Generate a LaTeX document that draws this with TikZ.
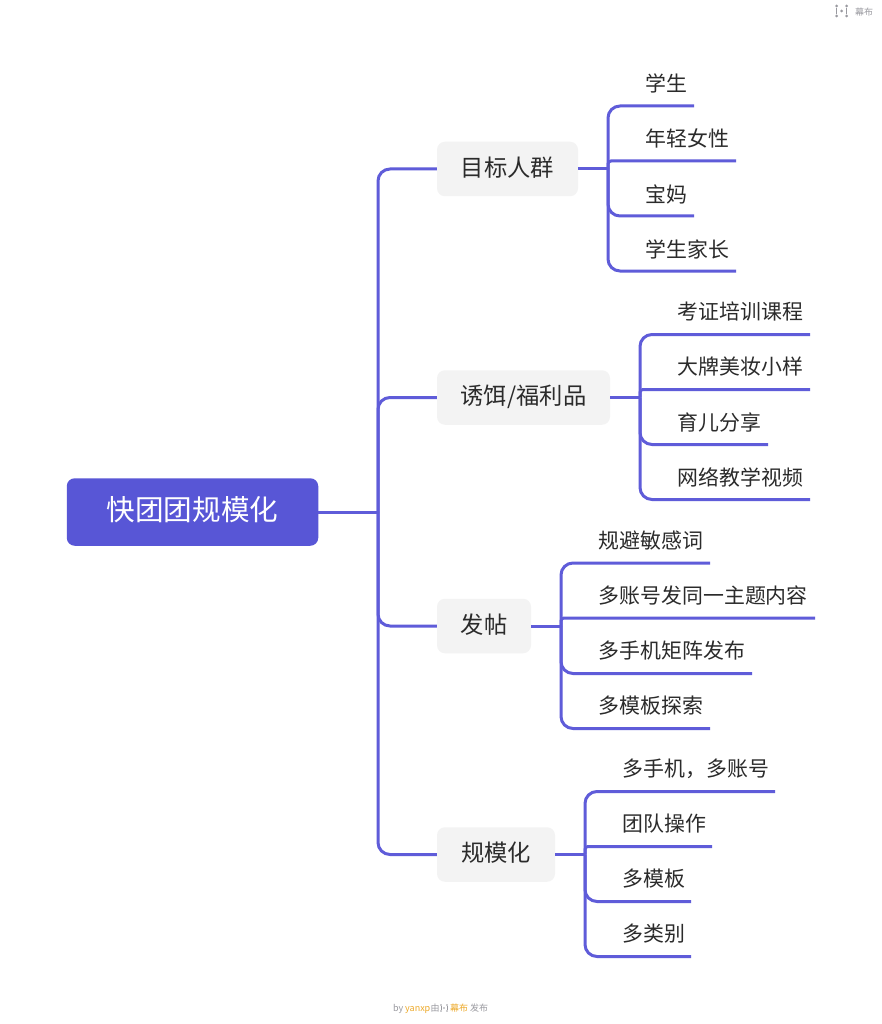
\documentclass[tikz,border=0pt]{standalone}
\usepackage{fontspec}
\setmainfont{Noto Sans CJK SC}
\definecolor{conncol}{HTML}{5F5CD9}
\definecolor{rootcol}{HTML}{5856D6}
\definecolor{boxcol}{HTML}{F3F3F3}
\definecolor{inkcol}{HTML}{2B2B2B}
\definecolor{markcol}{HTML}{9A9AA0}
\definecolor{orangecol}{HTML}{EDA929}
\tikzset{
  x=1pt,y=-1pt,
  rootbox/.style={fill=rootcol,rounded corners=8pt,inner sep=0pt,minimum height=67.5pt,minimum width=251.5pt},
  branchbox/.style={fill=boxcol,rounded corners=8pt,inner sep=0pt,minimum height=54.5pt},
  roottext/.style={text=white,inner sep=0pt,font=\fontsize{28.6}{32}\selectfont},
  branchtext/.style={text=inkcol,inner sep=0pt,font=\fontsize{23.3}{27}\selectfont},
  leaftext/.style={anchor=west,text=inkcol,inner sep=0pt,font=\fontsize{20.9}{25}\selectfont},
  conn/.style={draw=conncol,line width=3pt},
  curve/.style={conn,rounded corners=12pt},
  tinytext/.style={inner sep=0pt,anchor=base west,font=\fontsize{9}{11}\selectfont},
  dotm/.style={circle,inner sep=0pt,minimum size=3pt,fill=markcol},
  dots/.style={circle,inner sep=0pt,minimum size=1.8pt,fill=markcol},
}
\begin{document}
\begin{tikzpicture}
\useasboundingbox[fill=white] (0,0) rectangle (881,1024);
% junctions
\coordinate (j0) at (378,512);
\coordinate (j1) at (608,169);
\coordinate (j2) at (640,397.5);
\coordinate (j3) at (561,626);
\coordinate (j4) at (585,854.5);
% leaf line ends
\coordinate (e11) at (694,106); \coordinate (e12) at (736,161); \coordinate (e13) at (694,216); \coordinate (e14) at (736,271);
\coordinate (e21) at (810,334.5); \coordinate (e22) at (810,389.5); \coordinate (e23) at (768,444.5); \coordinate (e24) at (810,499.5);
\coordinate (e31) at (710,563); \coordinate (e32) at (815,618); \coordinate (e33) at (752,673.5); \coordinate (e34) at (710,728.5);
\coordinate (e41) at (775,791.5); \coordinate (e42) at (712,846.5); \coordinate (e43) at (691,901.5); \coordinate (e44) at (691,956.5);
% nodes
\node[rootbox] (root) at (192.5,512) {};
\node[roottext] (rootlabel) at (192.5,510) {快团团规模化};
\node[branchbox,minimum width=141pt] (b1) at (507.5,169) {};
\node[branchtext] (t1) at (507.5,167.5) {目标人群};
\node[branchbox,minimum width=173pt] (b2) at (523.5,397.5) {};
\node[branchtext] (t2) at (523.5,397) {诱饵/福利品};
\node[branchbox,minimum width=94pt] (b3) at (484,626) {};
\node[branchtext] (t3) at (484,624.5) {发帖};
\node[branchbox,minimum width=118pt] (b4) at (496,854.5) {};
\node[branchtext] (t4) at (496,853) {规模化};
\node[leaftext] (l11) at (645.5,83) {学生};
\node[leaftext] (l12) at (645.5,138) {年轻女性};
\node[leaftext] (l13) at (645.5,194) {宝妈};
\node[leaftext] (l14) at (645.5,249) {学生家长};
\node[leaftext] (l21) at (677.5,311) {考证培训课程};
\node[leaftext] (l22) at (677.5,367) {大牌美妆小样};
\node[leaftext] (l23) at (677.5,422.5) {育儿分享};
\node[leaftext] (l24) at (677.5,477) {网络教学视频};
\node[leaftext] (l31) at (598.5,540.5) {规避敏感词};
\node[leaftext] (l32) at (598.5,595.5) {多账号发同一主题内容};
\node[leaftext] (l33) at (598.5,650.5) {多手机矩阵发布};
\node[leaftext] (l34) at (598.5,705.5) {多模板探索};
\node[leaftext] (l41) at (622.5,768.5) {多手机，多账号};
\node[leaftext] (l42) at (622.5,823.5) {团队操作};
\node[leaftext] (l43) at (622.5,878.5) {多模板};
\node[leaftext] (l44) at (622.5,933.5) {多类别};
% connectors
\draw[conn] (root.east) -- (j0);
\foreach \i in {1,2,3,4}{
  \draw[curve] (j0) |- (b\i.west);
  \draw[conn] (b\i.east) -- (j\i);
  \draw[curve] (j\i) |- (e\i1);
  \draw[conn,rounded corners=3pt] (j\i) |- (e\i2);
  \draw[curve] (j\i) |- (e\i3);
  \draw[curve] (j\i) |- (e\i4);
}
% top-right mark
\node[dotm] (m1) at (836.5,6) {};
\node[dotm] (m3) at (836.5,16) {};
\node[dotm] (m4) at (841.5,11) {};
\node[dotm] (m5) at (846.5,6) {};
\node[dotm] (m7) at (846.5,16) {};
\draw[markcol,line width=.9pt] (m1) -- (m3) (m5) -- (m7);
\node[tinytext,text=markcol] (brand) at (855,16) {幕布};
% footer
\node[tinytext,text=markcol] (f1) at (393,1011) {by};
\node[tinytext,text=orangecol] (f2) at (405,1011) {yanxp};
\node[tinytext,text=markcol] (f3) at (430.5,1011) {由};
\node[dots] (n1) at (441,1005) {};
\node[dots] (n2) at (441,1011) {};
\node[dots] (n3) at (444,1008) {};
\node[dots] (n4) at (447,1005) {};
\node[dots] (n5) at (447,1011) {};
\draw[markcol,line width=.5pt] (n1) -- (n2) (n4) -- (n5);
\node[tinytext,text=orangecol] (f4) at (450,1011) {幕布};
\node[tinytext,text=markcol] (f5) at (470,1011) {发布};
\end{tikzpicture}
\end{document}
